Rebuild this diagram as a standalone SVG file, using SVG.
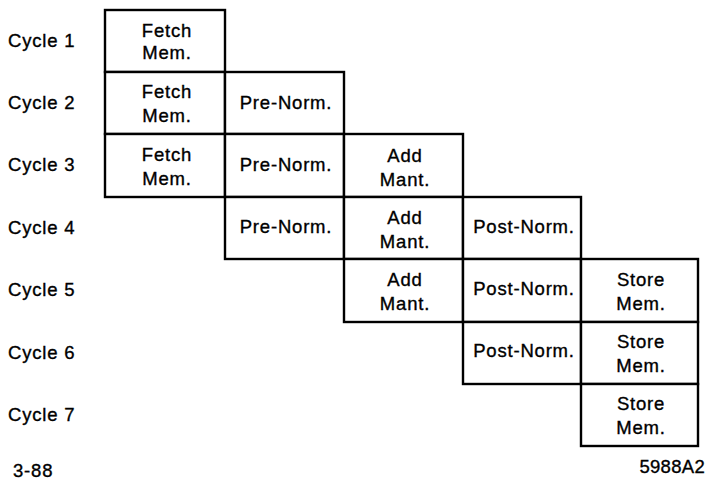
<svg xmlns="http://www.w3.org/2000/svg" width="707" height="480" viewBox="0 0 707 480">
<style>
  text { font-family: "Liberation Sans", Arial, sans-serif; font-size: 18.5px; fill: #000; stroke: #000; stroke-width: 0.35; letter-spacing: 0.8px; }
  .c { text-anchor: middle; }
  rect.cell { fill: #fff; stroke: #000; stroke-width: 2.4; }
</style>
<rect width="707" height="480" fill="#fff"/>
<g id="labels">
  <text x="8" y="47">Cycle 1</text>
  <text x="8" y="109">Cycle 2</text>
  <text x="8" y="171">Cycle 3</text>
  <text x="8" y="234">Cycle 4</text>
  <text x="8" y="296">Cycle 5</text>
  <text x="8" y="359">Cycle 6</text>
  <text x="8" y="421">Cycle 7</text>
  <text x="13" y="477">3-88</text>
  <text x="705" y="473" style="text-anchor:end;letter-spacing:0.3px">5988A2</text>
</g>
<g id="r1-fetch"><rect class="cell" x="105" y="10" width="120" height="62"/><text class="c" x="167" y="37">Fetch</text><text class="c" x="167" y="59">Mem.</text></g>

<g id="r2-fetch"><rect class="cell" x="105" y="72" width="120" height="62"/><text class="c" x="167" y="98">Fetch</text><text class="c" x="167" y="122">Mem.</text></g>
<g id="r2-pre"><rect class="cell" x="225" y="72" width="119" height="62"/><text class="c" x="286" y="109">Pre-Norm.</text></g>

<g id="r3-fetch"><rect class="cell" x="105" y="134" width="120" height="63"/><text class="c" x="167" y="161">Fetch</text><text class="c" x="167" y="185">Mem.</text></g>
<g id="r3-pre"><rect class="cell" x="225" y="134" width="119" height="63"/><text class="c" x="286" y="171">Pre-Norm.</text></g>
<g id="r3-add"><rect class="cell" x="344" y="134" width="119" height="63"/><text class="c" x="405" y="162">Add</text><text class="c" x="405" y="186">Mant.</text></g>

<g id="r4-pre"><rect class="cell" x="225" y="197" width="119" height="62"/><text class="c" x="286" y="233">Pre-Norm.</text></g>
<g id="r4-add"><rect class="cell" x="344" y="197" width="119" height="62"/><text class="c" x="405" y="224">Add</text><text class="c" x="405" y="248">Mant.</text></g>
<g id="r4-post"><rect class="cell" x="463" y="197" width="118" height="62"/><text class="c" x="524" y="233">Post-Norm.</text></g>

<g id="r5-add"><rect class="cell" x="344" y="259" width="119" height="63"/><text class="c" x="405" y="286">Add</text><text class="c" x="405" y="310">Mant.</text></g>
<g id="r5-post"><rect class="cell" x="463" y="259" width="118" height="63"/><text class="c" x="524" y="295">Post-Norm.</text></g>
<g id="r5-store"><rect class="cell" x="581" y="259" width="117" height="63"/><text class="c" x="641" y="286">Store</text><text class="c" x="641" y="310">Mem.</text></g>

<g id="r6-post"><rect class="cell" x="463" y="322" width="118" height="62"/><text class="c" x="524" y="357">Post-Norm.</text></g>
<g id="r6-store"><rect class="cell" x="581" y="322" width="117" height="62"/><text class="c" x="641" y="348">Store</text><text class="c" x="641" y="372">Mem.</text></g>

<g id="r7-store"><rect class="cell" x="581" y="384" width="117" height="62"/><text class="c" x="641" y="410">Store</text><text class="c" x="641" y="434">Mem.</text></g>
</svg>
